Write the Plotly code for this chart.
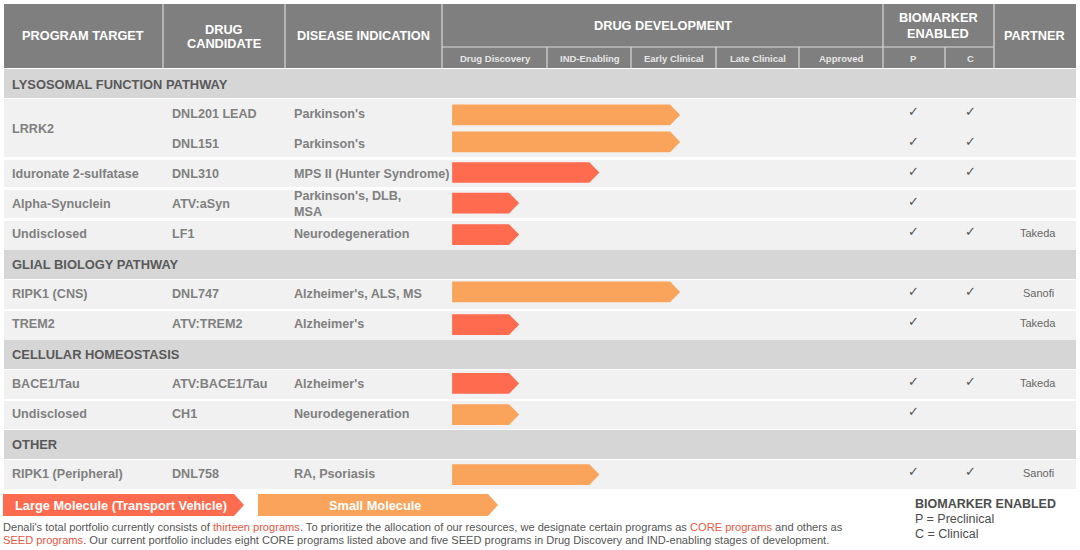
import plotly.graph_objects as go

# table content, one entry per row of the body
sections = ["LYSOSOMAL FUNCTION PATHWAY", "GLIAL BIOLOGY PATHWAY", "CELLULAR HOMEOSTASIS", "OTHER"]
section_rows = [0, 6, 9, 12]

targets = ["LRRK2", "Iduronate 2-sulfatase", "Alpha-Synuclein", "Undisclosed", "RIPK1 (CNS)",
           "TREM2", "BACE1/Tau", "Undisclosed", "RIPK1 (Peripheral)"]
target_rows = [1.5, 3, 4, 5, 7, 8, 10, 11, 13]

candidates = ["DNL201 LEAD", "DNL151", "DNL310", "ATV:aSyn", "LF1", "DNL747", "ATV:TREM2",
              "ATV:BACE1/Tau", "CH1", "DNL758"]
indications = ["Parkinson's", "Parkinson's", "MPS II (Hunter Syndrome)", "Parkinson's, DLB,<br>MSA",
               "Neurodegeneration", "Alzheimer's, ALS, MS", "Alzheimer's", "Alzheimer's",
               "Neurodegeneration", "RA, Psoriasis"]
program_rows = [1, 2, 3, 4, 5, 7, 8, 10, 11, 13]
arrow_rows = [1.03, 1.93, 2.95, 3.97, 5.02, 6.93, 8.02, 9.98, 11.02, 13.02]

# how far each program got, percent of the drug development column
progress = [54, 54, 35.7, 17.5, 17.5, 54, 17.5, 17.5, 17.5, 35.7]
modality = ["small", "small", "large", "large", "large", "small", "large", "large", "small", "small"]
preclinical = [1, 1, 1, 1, 1, 1, 1, 1, 1, 1]
clinical = [1, 1, 1, 0, 1, 1, 0, 1, 0, 1]
partners = ["", "", "", "", "Takeda", "Sanofi", "Takeda", "Takeda", "", "Sanofi"]

stages = ["Drug Discovery", "IND-Enabling", "Early Clinical", "Late Clinical", "Approved"]

GREY = "#7f7f7f"
TEXT = "#808080"
DARK = "#595959"
LARGE = "#ff6b4f"
SMALL = "#f9a35b"
FONT = "Liberation Sans"

W, H = 1080, 550
ROW0, ROW_H = 84, 30


def px(x):
    return x / W


def py(y):
    return 1 - y / H


fig = go.Figure()


def rect(x0, y0, x1, y1, color):
    fig.add_shape(type="rect", xref="paper", yref="paper", x0=px(x0), x1=px(x1), y0=py(y0), y1=py(y1),
                  fillcolor=color, line_width=0, layer="below")


def label(x, y, text, size=12.6, color=TEXT, bold=True, anchor="left", yref="paper"):
    # annotations carry about 2px of padding, left aligned ones get it taken back
    if anchor == "left":
        x = x - 2
    fig.add_annotation(xref="paper", yref=yref, x=px(x), y=py(y) if yref == "paper" else y, text=text,
                       showarrow=False, xanchor=anchor, yanchor="middle", align=anchor,
                       font=dict(family=FONT, size=size, color=color, weight="bold" if bold else "normal"))


# header block
rect(4, 4, 1076, 68, GREY)
for sx in [163, 285, 442, 883, 994]:
    fig.add_shape(type="line", xref="paper", yref="paper", x0=px(sx), x1=px(sx), y0=py(4), y1=py(68),
                  line=dict(color="#d9d9d9", width=1.2), layer="below")
fig.add_shape(type="line", xref="paper", yref="paper", x0=px(442), x1=px(994), y0=py(47), y1=py(47),
              line=dict(color="#d9d9d9", width=1.2), layer="below")
for sx in [547, 631, 716, 799, 945]:
    fig.add_shape(type="line", xref="paper", yref="paper", x0=px(sx), x1=px(sx), y0=py(47), y1=py(68),
                  line=dict(color="#d9d9d9", width=1.2), layer="below")

HEAD = 12.75
label(83, 36, "PROGRAM TARGET", HEAD, "white", anchor="center")
label(224, 29, "DRUG", HEAD, "white", anchor="center")
label(224, 43.5, "CANDIDATE", HEAD, "white", anchor="center")
label(363.5, 36, "DISEASE INDICATION", HEAD, "white", anchor="center")
label(662.5, 26, "DRUG DEVELOPMENT", HEAD, "white", anchor="center")
label(938, 18, "BIOMARKER", HEAD, "white", anchor="center")
label(938, 33, "ENABLED", HEAD, "white", anchor="center")
label(1034.5, 36, "PARTNER", HEAD, "white", anchor="center")

stage_centers = [495, 589.5, 673.5, 757.5, 841]
for cx, stage in zip(stage_centers, stages):
    label(cx, 58, stage, 9.5, "#e6e6e6", anchor="center")
label(913, 58, "P", 9.5, "#e6e6e6", anchor="center")
label(970, 58, "C", 9.5, "#e6e6e6", anchor="center")

# row bands
for y0, y1 in [(99, 157), (160, 187), (190, 218), (221, 250), (280, 309), (311, 340), (370, 399), (401, 429),
               (460, 489)]:
    rect(4, y0, 1076, y1, "#f1f1f1")
for y0, y1 in [(69, 98), (250, 279), (340, 369), (430, 459)]:
    rect(4, y0, 1076, y1, "#d6d6d6")

for row, name in zip(section_rows, sections):
    label(12, row, name, 12.9, DARK, yref="y")
for row, name in zip(target_rows, targets):
    label(12, row, name, yref="y")
for row, cand, ind, partner, p, c in zip(program_rows, candidates, indications, partners, preclinical, clinical):
    label(171.5, row - 0.01, cand, yref="y")
    label(293.5, row - 0.01, ind, yref="y")
    if partner:
        label(1038, row - 0.05, partner, 11, "#666666", bold=False, anchor="center", yref="y")
    if p:
        label(913, row - 0.07, "✓", 13, "#555555", bold=False, anchor="center", yref="y")
    if c:
        label(970, row - 0.07, "✓", 13, "#555555", bold=False, anchor="center", yref="y")

# arrows of the pipeline, on the axis of the drug development column
START, TIP, HALF = 2.3, 2.3, 0.345
for kind, color in [("large", LARGE), ("small", SMALL)]:
    xs, ys = [], []
    for row, end, m in zip(arrow_rows, progress, modality):
        if m != kind:
            continue
        xs += [START, end - TIP, end, end - TIP, START, START, None]
        ys += [row - HALF, row - HALF, row, row + HALF, row + HALF, row - HALF, None]
    fig.add_trace(go.Scatter(x=xs, y=ys, mode="lines", fill="toself", fillcolor=color, line_width=0,
                             name=kind, hoverinfo="skip"))


def legend_arrow(x0, x1, color):
    y0, y1 = 494, 516
    path = (f"M {px(x0)} {py(y0)} L {px(x1 - 10)} {py(y0)} L {px(x1)} {py((y0 + y1) / 2)} "
            f"L {px(x1 - 10)} {py(y1)} L {px(x0)} {py(y1)} Z")
    fig.add_shape(type="path", xref="paper", yref="paper", path=path, fillcolor=color, line_width=0, layer="below")


legend_arrow(3, 244, LARGE)
legend_arrow(258, 498, SMALL)
label(120.5, 505.5, "Large Molecule (Transport Vehicle)", 12.8, "white", anchor="center")
label(375, 505.5, "Small Molecule", 12.8, "white", anchor="center")

RED = '<span style="color:#e8563f">'
label(3, 526.5, f"Denali's total portfolio currently consists of {RED}thirteen programs</span>. To prioritize the "
      f"allocation of our resources, we designate certain programs as {RED}CORE programs</span> and others as",
      11.1, "#555555", bold=False)
label(3, 540, f"{RED}SEED programs</span>. Our current portfolio includes eight CORE programs listed above and five "
      "SEED programs in Drug Discovery and IND-enabling stages of development.", 11.1, "#555555", bold=False)

label(915, 504, "BIOMARKER ENABLED", 12.5, "#4d4d4d")
label(915, 519, "P = Preclinical", 12.5, "#4d4d4d", bold=False)
label(915, 534, "C = Clinical", 12.5, "#4d4d4d", bold=False)

fig.update_layout(
    width=W, height=H, margin=dict(l=0, r=0, t=0, b=0), showlegend=False,
    paper_bgcolor="white", plot_bgcolor="rgba(0,0,0,0)",
    xaxis=dict(domain=[px(442), px(883)], range=[0, 100], visible=False, fixedrange=True),
    yaxis=dict(domain=[0, 1], range=[(H - ROW0) / ROW_H, -ROW0 / ROW_H], visible=False, fixedrange=True),
)
# the browser's default body margin would push the chart 8px off
fig.write_html("out.html", config={"displayModeBar": False},
               post_script="document.body.style.margin='0';document.body.style.overflow='hidden';")
